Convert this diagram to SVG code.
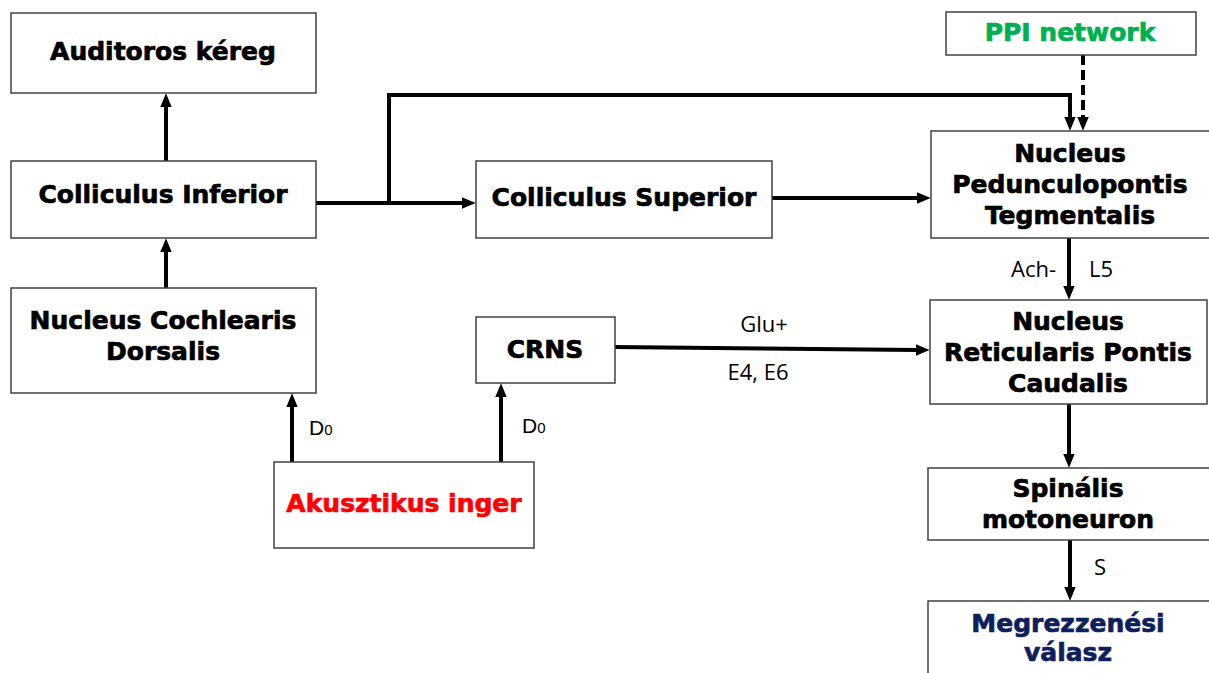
<svg xmlns="http://www.w3.org/2000/svg" width="1209" height="673" viewBox="0 0 1209 673">
<style>
.box{fill:#fff;stroke:#404040;stroke-width:1.5}
.t{font-family:"DejaVu Sans","Liberation Sans",sans-serif;font-weight:bold;font-size:25px;text-anchor:middle;fill:#000;stroke:#000;stroke-width:0.7}
.red{fill:#ff0000;stroke:#ff0000}
.green{fill:#00b050;stroke:#00b050}
.navy{fill:#0f1f5c;stroke:#0f1f5c}
.lbl{font-family:"Open Sans","Liberation Sans",sans-serif;font-size:22px;fill:#000}
.d{font-family:"Liberation Sans",Arial,sans-serif;font-size:21px;fill:#000}
.c{fill:none;stroke:#000;stroke-width:4}
.dash{fill:none;stroke:#000;stroke-width:4;stroke-dasharray:10 5}
</style>
<defs>
<marker id="ah" markerUnits="userSpaceOnUse" markerWidth="14" markerHeight="13" refX="2" refY="5" orient="auto" viewBox="0 0 12 10">
<path d="M0,0 L12,5 L0,10 z" fill="#000"/>
</marker>
</defs>
<rect width="1209" height="673" fill="#fff"/>

<g id="connectors">
<path class="c" d="M166 161 L166 105" marker-end="url(#ah)"/>
<path class="c" d="M166 288 L166 250" marker-end="url(#ah)"/>
<path class="c" d="M292 462 L292 405" marker-end="url(#ah)"/>
<path class="c" d="M501 462 L501 395" marker-end="url(#ah)"/>
<path class="c" d="M316 203 L464 203" marker-end="url(#ah)"/>
<path class="c" d="M389 203 L389 95 L1070 95 L1070 119" marker-end="url(#ah)"/>
<path class="c" d="M772 198 L919 198" marker-end="url(#ah)"/>
<path class="dash" d="M1083 55 L1083 119" marker-end="url(#ah)"/>
<path class="c" d="M1069 238 L1069 288" marker-end="url(#ah)"/>
<path class="c" d="M613 347 L918 350" marker-end="url(#ah)"/>
<path class="c" d="M1069 404 L1069 456" marker-end="url(#ah)"/>
<path class="c" d="M1070 540 L1070 589" marker-end="url(#ah)"/>
<text class="d" x="309" y="435">D<tspan font-size="15">0</tspan></text>
<text class="d" x="522" y="433">D<tspan font-size="15">0</tspan></text>
<text class="lbl" x="1011" y="277">Ach-</text>
<text class="lbl" x="1089" y="277">L5</text>
<text class="lbl" x="764" y="332" text-anchor="middle">Glu+</text>
<text class="lbl" x="758" y="380" text-anchor="middle">E4, E6</text>
<text class="lbl" x="1094" y="575">S</text>
</g>

<g id="auditoros">
<rect class="box" x="11" y="13" width="305" height="80"/>
<text class="t" x="163" y="60">Auditoros kéreg</text>
</g>
<g id="colliculus-inferior">
<rect class="box" x="11" y="161" width="305" height="77"/>
<text class="t" x="163" y="203">Colliculus Inferior</text>
</g>
<g id="nucleus-cochlearis">
<rect class="box" x="11" y="288" width="305" height="105"/>
<text class="t" x="163" y="329">Nucleus Cochlearis</text>
<text class="t" x="163" y="360">Dorsalis</text>
</g>
<g id="akusztikus">
<rect class="box" x="274" y="462" width="260" height="86"/>
<text class="t red" x="404" y="512">Akusztikus inger</text>
</g>
<g id="crns">
<rect class="box" x="476" y="317" width="139" height="66"/>
<text class="t" x="545" y="358">CRNS</text>
</g>
<g id="colliculus-superior">
<rect class="box" x="476" y="161" width="296" height="77"/>
<text class="t" x="624" y="206">Colliculus Superior</text>
</g>
<g id="ppi">
<rect class="box" x="946" y="12" width="250" height="43"/>
<text class="t green" x="1070" y="41">PPI network</text>
</g>
<g id="nucleus-pedunculopontis">
<rect class="box" x="931" y="131" width="285" height="107"/>
<text class="t" x="1070" y="162">Nucleus</text>
<text class="t" x="1070" y="193">Pedunculopontis</text>
<text class="t" x="1070" y="224">Tegmentalis</text>
</g>
<g id="nucleus-reticularis">
<rect class="box" x="930" y="300" width="277" height="104"/>
<text class="t" x="1068" y="330">Nucleus</text>
<text class="t" x="1068" y="361">Reticularis Pontis</text>
<text class="t" x="1068" y="392">Caudalis</text>
</g>
<g id="spinalis">
<rect class="box" x="928" y="468" width="288" height="72"/>
<text class="t" x="1068" y="497">Spinális</text>
<text class="t" x="1068" y="528">motoneuron</text>
</g>
<g id="megrezzenesi">
<rect class="box" x="928" y="601" width="288" height="85"/>
<text class="t navy" x="1068" y="632">Megrezzenési</text>
<text class="t navy" x="1068" y="661">válasz</text>
</g>
</svg>
